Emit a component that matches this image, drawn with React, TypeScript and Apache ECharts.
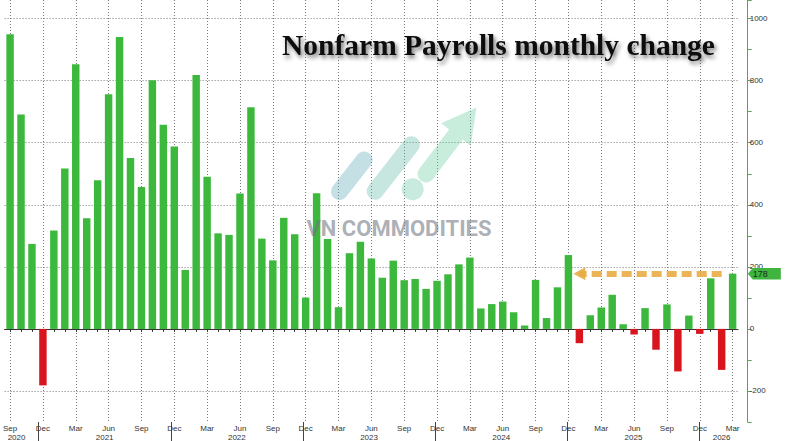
import React, { useEffect, useRef } from 'react';
import * as echarts from 'echarts';

const categories = [
  'Sep 2020', 'Oct 2020', 'Nov 2020', 'Dec 2020',
  'Jan 2021', 'Feb 2021', 'Mar 2021', 'Apr 2021', 'May 2021', 'Jun 2021', 'Jul 2021', 'Aug 2021', 'Sep 2021', 'Oct 2021', 'Nov 2021', 'Dec 2021',
  'Jan 2022', 'Feb 2022', 'Mar 2022', 'Apr 2022', 'May 2022', 'Jun 2022', 'Jul 2022', 'Aug 2022', 'Sep 2022', 'Oct 2022', 'Nov 2022', 'Dec 2022',
  'Jan 2023', 'Feb 2023', 'Mar 2023', 'Apr 2023', 'May 2023', 'Jun 2023', 'Jul 2023', 'Aug 2023', 'Sep 2023', 'Oct 2023', 'Nov 2023', 'Dec 2023',
  'Jan 2024', 'Feb 2024', 'Mar 2024', 'Apr 2024', 'May 2024', 'Jun 2024', 'Jul 2024', 'Aug 2024', 'Sep 2024', 'Oct 2024', 'Nov 2024', 'Dec 2024',
  'Jan 2025', 'Feb 2025', 'Mar 2025', 'Apr 2025', 'May 2025', 'Jun 2025', 'Jul 2025', 'Aug 2025', 'Sep 2025', 'Oct 2025', 'Nov 2025', 'Dec 2025',
  'Jan 2026', 'Feb 2026', 'Mar 2026',
];

const payrolls2020 = [950, 691, 274, -182];
const payrolls2021 = [317, 517, 853, 357, 479, 756, 941, 551, 457, 801, 658, 588];
const payrolls2022 = [190, 818, 490, 308, 303, 436, 714, 291, 221, 358, 305, 101];
const payrolls2023 = [437, 290, 70, 244, 281, 227, 165, 220, 157, 161, 129, 155];
const payrolls2024 = [176, 208, 230, 66, 80, 88, 54, 11, 158, 35, 134, 238];
const payrolls2025 = [-46, 44, 69, 110, 15, -18, 67, -67, 79, -137, 43, -16];
const payrolls2026 = [163, -132, 178];

const values = [
  ...payrolls2020, ...payrolls2021, ...payrolls2022, ...payrolls2023,
  ...payrolls2024, ...payrolls2025, ...payrolls2026,
];

const yTickLabels = [-200, 0, 200, 400, 600, 800, 1000];
const monthLabelNames = ['Sep', 'Dec', 'Mar', 'Jun'];
const yearLabelAt = ['Oct 2020', 'Jun 2021', 'Jun 2022', 'Jun 2023', 'Jun 2024', 'Jun 2025', 'Feb 2026'];
const latestValue = 178;
const arrowFrom = 'Feb 2026';
const arrowTo = 'Jan 2025';
const titleText = 'Nonfarm Payrolls monthly change';
const watermarkText = 'VN COMMODITIES';

const deg = Math.PI / 180;

echarts.graphic.registerShape(
  'wmArrow',
  echarts.graphic.extendPath(
    'M 0 -8.5 L 49.5 -8.5 L 49.5 -18.6 L 83.4 0 L 49.5 18.6 L 49.5 8.5 L 0 8.5 A 8.5 8.5 0 0 1 0 -8.5 Z',
    {}
  )
);

export default function App() {
  const ref = useRef<HTMLDivElement>(null);

  useEffect(() => {
    document.body.style.margin = '0';
    const chart = echarts.init(ref.current as HTMLDivElement, null, { renderer: 'svg' });
    const green = '#3cb83c';
    const red = '#d8141c';
    const gridColor = '#7a7a7a';
    const gridDash = [1, 2];
    const gridBox = { left: -1.6, right: 61.9, top: 0, bottom: 19 };

    const option: any = {
      animation: false,
      backgroundColor: '#ffffff',
      title: {
        text: titleText,
        left: 282,
        top: 30,
        padding: 0,
        textStyle: {
          fontFamily: "'Liberation Serif', serif",
          fontWeight: 'bold',
          fontSize: 29.5,
          color: '#111111',
          textShadowColor: 'rgba(0,0,0,0.55)',
          textShadowBlur: 4,
          textShadowOffsetX: 2,
          textShadowOffsetY: 3,
        },
      },
      grid: [
        { ...gridBox },
        { ...gridBox },
      ],
      xAxis: [
        {
          type: 'category',
          gridIndex: 0,
          data: categories,
          position: 'bottom',
          axisLine: { show: true, lineStyle: { color: '#333333', width: 1 } },
          axisTick: {
            show: true,
            alignWithLabel: true,
            interval: 0,
            length: 3,
            lineStyle: { color: '#333333' },
          },
          axisLabel: {
            interval: (i: number, v: string) => monthLabelNames.includes(v.split(' ')[0]),
            formatter: (v: string) => v.split(' ')[0],
            fontSize: 8,
            color: '#333333',
            margin: 2,
            fontFamily: "'Liberation Sans', Arial, sans-serif",
          },
          splitLine: {
            show: true,
            alignWithLabel: true,
            interval: (i: number, v: string) => monthLabelNames.includes(v.split(' ')[0]),
            lineStyle: { type: gridDash, color: gridColor, width: 1 },
          },
        },
        {
          type: 'category',
          gridIndex: 1,
          data: categories,
          position: 'bottom',
          axisLine: { show: false },
          axisTick: {
            show: true,
            alignWithLabel: true,
            interval: (i: number, v: string) => v.startsWith('Dec'),
            length: 21,
            lineStyle: { color: '#444444' },
          },
          axisLabel: {
            interval: (i: number, v: string) => yearLabelAt.includes(v),
            formatter: (v: string) => v.split(' ')[1],
            fontSize: 8,
            color: '#333333',
            margin: 11,
            fontFamily: "'Liberation Sans', Arial, sans-serif",
          },
          splitLine: { show: false },
        },
      ],
      yAxis: [
        {
          type: 'value',
          gridIndex: 0,
          position: 'right',
          offset: 9.6,
          min: -300,
          max: 1060,
          interval: 100,
          axisLine: { show: true, lineStyle: { color: '#5e9e5e', width: 1 } },
          axisTick: { show: true, length: 4, lineStyle: { color: '#5e9e5e' } },
          axisLabel: {
            fontSize: 8,
            color: '#333333',
            margin: 2,
            fontFamily: "'Liberation Sans', Arial, sans-serif",
            formatter: (v: number) => (yTickLabels.includes(v) ? String(v) : ''),
          },
          splitLine: {
            show: true,
            showMinLine: true,
            lineStyle: { type: gridDash, color: ['rgba(255,255,255,0)', gridColor], width: 1 },
          },
        },
        { type: 'value', gridIndex: 1, show: false },
      ],
      series: [
        {
          type: 'bar',
          xAxisIndex: 0,
          yAxisIndex: 0,
          data: values,
          z: 3,
          barCategoryGap: '32%',
          itemStyle: {
            color: (p: any) => (p.value >= 0 ? green : red),
          },
          emphasis: { disabled: true },
          markLine: {
            silent: true,
            symbol: ['none', 'triangle'],
            symbolSize: [13, 12],
            label: { show: false },
            emphasis: { disabled: true },
            lineStyle: { type: [10, 5], width: 6, color: '#e8ac45', opacity: 0.9 },
            data: [[{ coord: [arrowFrom, latestValue] }, { coord: [arrowTo, latestValue] }]],
          },
          markPoint: {
            silent: true,
            symbol: 'path://M0,5.5 L5,0 L33,0 L33,11 L5,11 Z',
            symbolSize: [33, 11.5],
            symbolOffset: [31.7, 0],
            symbolKeepAspect: false,
            itemStyle: { color: '#3fb53f' },
            label: {
              show: true,
              formatter: '{c}',
              color: '#1b2b1b',
              fontSize: 9,
              offset: [-4, 0],
              fontFamily: "'Liberation Sans', Arial, sans-serif",
            },
            data: [{ coord: ['Mar 2026', latestValue], value: latestValue }],
          },
        },
      ],
      graphic: [
        {
          type: 'rect',
          z: 100,
          silent: true,
          x: 351.8,
          y: 175.8,
          rotation: 52 * deg,
          shape: { x: -28.5, y: -8.5, width: 57, height: 17, r: 8.5 },
          style: { fill: 'rgba(95,168,182,0.36)' },
        },
        {
          type: 'rect',
          z: 100,
          silent: true,
          x: 393.3,
          y: 168,
          rotation: 52 * deg,
          shape: { x: -38, y: -8.5, width: 76, height: 17, r: 8.5 },
          style: { fill: 'rgba(100,185,165,0.36)' },
        },
        {
          type: 'circle',
          z: 100,
          silent: true,
          shape: { cx: 412.7, cy: 189.3, r: 11 },
          style: { fill: 'rgba(105,196,165,0.36)' },
        },
        {
          type: 'wmArrow',
          z: 100,
          silent: true,
          x: 426,
          y: 174,
          rotation: 52.8 * deg,
          style: { fill: 'rgba(105,205,160,0.36)' },
        },
        {
          type: 'text',
          z: 100,
          silent: true,
          x: 306.5,
          y: 228,
          style: {
            text: watermarkText,
            fontFamily: 'Roboto, sans-serif',
            fontWeight: 'bold',
            fontSize: 22,
            fill: 'rgba(110,116,128,0.58)',
            textAlign: 'left',
            textVerticalAlign: 'middle',
          },
        },
      ],
    };

    chart.setOption(option);
    return () => chart.dispose();
  }, []);

  return (
    <div
      ref={ref}
      style={{ position: 'fixed', left: 0, top: 0, width: 800, height: 441, background: '#ffffff' }}
    />
  );
}
